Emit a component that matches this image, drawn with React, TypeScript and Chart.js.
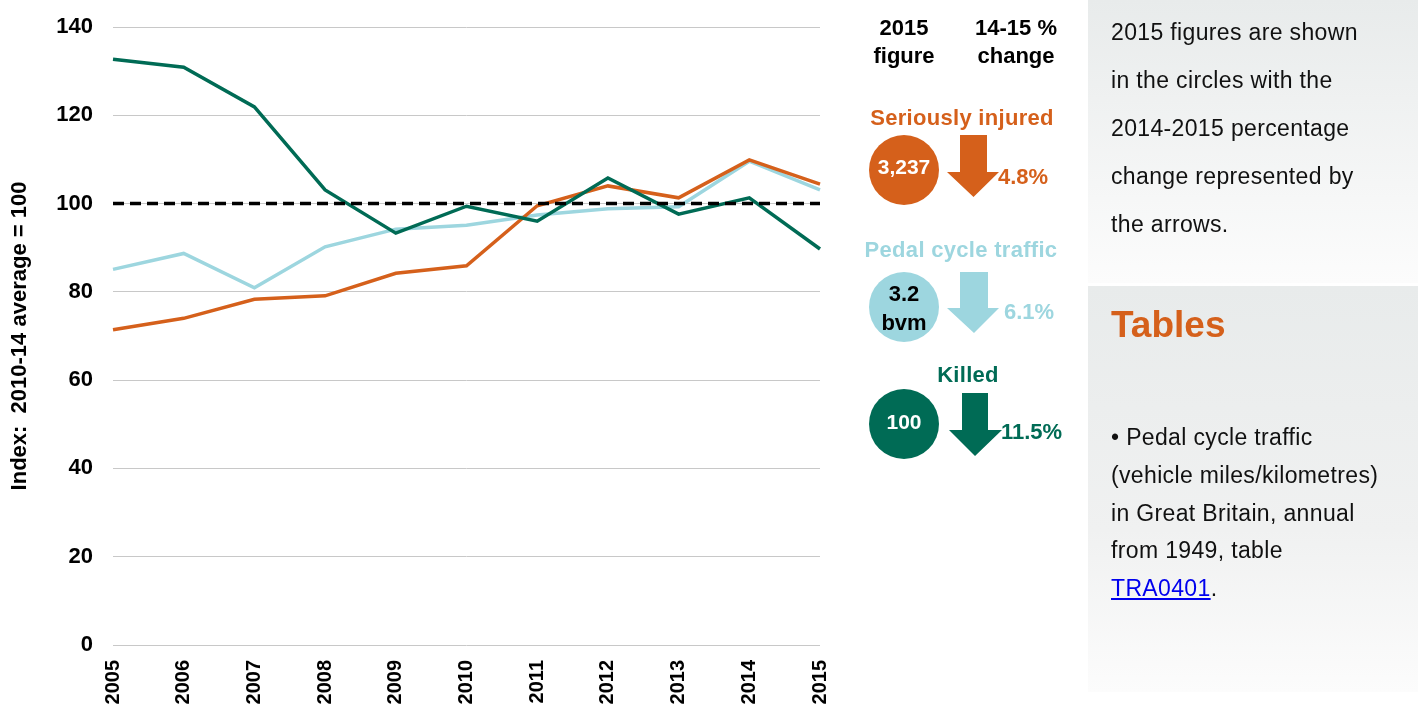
import React, { useEffect, useRef } from "react";
import { Chart, registerables } from "chart.js";

Chart.register(...registerables);

// ---------- data ----------
const years = ["2005", "2006", "2007", "2008", "2009", "2010", "2011", "2012", "2013", "2014", "2015"];
const killedIndex = [132.7, 130.9, 121.9, 103.1, 93.3, 99.4, 96.0, 105.8, 97.6, 101.3, 89.7];
const seriouslyInjuredIndex = [71.4, 74.0, 78.3, 79.1, 84.2, 85.9, 99.5, 104.0, 101.3, 109.9, 104.4];
const pedalTrafficIndex = [85.1, 88.7, 80.9, 90.2, 94.2, 95.1, 97.4, 98.8, 99.3, 109.6, 103.1];
const averageIndex = [100, 100, 100, 100, 100, 100, 100, 100, 100, 100, 100];
const yTickValues = [0, 20, 40, 60, 80, 100, 120, 140];

const summaryTitles = ["Seriously injured", "Pedal cycle traffic", "Killed"];
const summaryFigures = [["3,237"], ["3.2", "bvm"], ["100"]];
const summaryChanges = ["4.8%", "6.1%", "11.5%"];

// ---------- styles ----------
const ORANGE = "#D5601B";
const LIGHTBLUE = "#9DD6DF";
const GREEN = "#006B55";
const FONT = "'Liberation Sans', Arial, Helvetica, sans-serif";

const summaryColors = [ORANGE, LIGHTBLUE, GREEN];
const figureTextColors = ["#FFFFFF", "#000000", "#FFFFFF"];

// layout of the summary column (pixels)
const summaryLayout = [
  { titleX: 962, titleY: 118, cx: 904, cy: 170, r: 35, figY: [167], arrow: { sl: 960, sr: 987, top: 135, ht: 172, hl: 947, hr: 999, tip: 197 }, pctX: 998, pctY: 177 },
  { titleX: 961, titleY: 250, cx: 904, cy: 307, r: 35, figY: [294, 323], arrow: { sl: 960, sr: 988, top: 272, ht: 308, hl: 947, hr: 999, tip: 333 }, pctX: 1004, pctY: 312 },
  { titleX: 968, titleY: 375, cx: 904, cy: 424, r: 35, figY: [422], arrow: { sl: 962, sr: 988, top: 393, ht: 430, hl: 949, hr: 1002, tip: 456 }, pctX: 1001, pctY: 432 },
];

function CenteredText(props: { x: number; y: number; h: number; size: number; color: string; bold?: boolean; text: string; align?: "center" | "left"; spacing?: number }) {
  const { x, y, h, size, color, bold, text, align = "center", spacing = 0 } = props;
  const w = 320;
  return (
    <div
      style={{
        position: "absolute",
        left: align === "center" ? x - w / 2 : x,
        top: y - h / 2,
        width: w,
        height: h,
        lineHeight: `${h}px`,
        fontSize: size,
        fontWeight: bold ? "bold" : "normal",
        color,
        textAlign: align,
        fontFamily: FONT,
        whiteSpace: "pre",
        letterSpacing: spacing,
      }}
    >
      {text}
    </div>
  );
}

export default function App() {
  const canvasRef = useRef<HTMLCanvasElement | null>(null);

  useEffect(() => {
    const canvas = canvasRef.current;
    if (!canvas) return;
    const chart = new Chart(canvas, {
      type: "line",
      data: {
        labels: years,
        datasets: [
          {
            label: "2010-14 average",
            data: averageIndex,
            borderColor: "#000000",
            borderWidth: 3.5,
            borderDash: [11, 6],
            pointRadius: 0,
            fill: false,
            order: 0,
          },
          {
            label: "Killed",
            data: killedIndex,
            borderColor: GREEN,
            borderWidth: 3.5,
            pointRadius: 0,
            fill: false,
            tension: 0,
            order: 1,
          },
          {
            label: "Seriously injured",
            data: seriouslyInjuredIndex,
            borderColor: ORANGE,
            borderWidth: 3.5,
            pointRadius: 0,
            fill: false,
            tension: 0,
            order: 2,
          },
          {
            label: "Pedal cycle traffic",
            data: pedalTrafficIndex,
            borderColor: LIGHTBLUE,
            borderWidth: 3.5,
            pointRadius: 0,
            fill: false,
            tension: 0,
            order: 3,
          },
        ],
      },
      options: {
        animation: false,
        responsive: true,
        maintainAspectRatio: false,
        layout: { padding: { top: 27, right: 20, left: 0, bottom: 0 } },
        plugins: {
          legend: { display: false },
          tooltip: { enabled: false },
        },
        scales: {
          x: {
            type: "category",
            offset: false,
            grid: { display: false, drawTicks: false },
            border: { display: false },
            ticks: {
              autoSkip: false,
              maxRotation: 90,
              minRotation: 90,
              padding: 15,
              color: "#000000",
              font: { family: FONT, size: 20, weight: "bold" },
            },
            afterFit: (s: any) => {
              s.height = 64;
              s.paddingLeft = 0;
              s.paddingRight = 0;
              s.paddingTop = 0;
              s.paddingBottom = 0;
            },
          },
          y: {
            min: 0,
            max: 140,
            afterBuildTicks: (s: any) => {
              s.ticks = yTickValues.map((v) => ({ value: v }));
            },
            grid: { color: "#C8C8C8", lineWidth: 1, drawTicks: false },
            border: { display: false },
            ticks: {
              padding: 20,
              color: "#000000",
              font: { family: FONT, size: 22, weight: "bold" },
            },
            title: {
              display: true,
              text: "Index:  2010-14 average = 100",
              color: "#000000",
              font: { family: FONT, size: 22, weight: "bold" },
              padding: { top: 7, bottom: 0 },
            },
            afterFit: (s: any) => {
              s.width = 113;
              s.paddingLeft = 0;
              s.paddingRight = 0;
              s.paddingTop = 0;
              s.paddingBottom = 0;
            },
          },
        },
      },
    } as any);
    return () => chart.destroy();
  }, []);

  return (
    <div style={{ position: "absolute", left: 0, top: 0, width: 1418, height: 709, background: "#FFFFFF", overflow: "hidden", fontFamily: FONT }}>
      <div style={{ position: "absolute", left: 0, top: 0, width: 840, height: 709 }}>
        <canvas ref={canvasRef} style={{ display: "block" }} />
      </div>

      {/* summary column headers */}
      <CenteredText x={904} y={28} h={28} size={22} color="#000" bold text="2015" />
      <CenteredText x={904} y={56} h={28} size={22} color="#000" bold text="figure" />
      <CenteredText x={1016} y={28} h={28} size={22} color="#000" bold text="14-15 %" />
      <CenteredText x={1016} y={56} h={28} size={22} color="#000" bold text="change" />

      <svg style={{ position: "absolute", left: 0, top: 0 }} width={1418} height={709}>
        {summaryLayout.map((l, i) => {
          const a = l.arrow;
          const pts = [
            [a.sl, a.top], [a.sr, a.top], [a.sr, a.ht], [a.hr, a.ht],
            [(a.sl + a.sr) / 2, a.tip], [a.hl, a.ht], [a.sl, a.ht],
          ].map((p) => p.join(",")).join(" ");
          return (
            <g key={i}>
              <circle cx={l.cx} cy={l.cy} r={l.r} fill={summaryColors[i]} />
              <polygon points={pts} fill={summaryColors[i]} />
            </g>
          );
        })}
      </svg>

      {summaryLayout.map((l, i) => (
        <React.Fragment key={i}>
          <CenteredText x={l.titleX} y={l.titleY} h={28} size={22} color={summaryColors[i]} bold text={summaryTitles[i]} spacing={0.3} />
          {summaryFigures[i].map((f, j) => (
            <CenteredText key={j} x={l.cx} y={l.figY[j]} h={26} size={l.figY.length > 1 ? 22 : 21} color={figureTextColors[i]} bold text={f} />
          ))}
          <CenteredText x={l.pctX} y={l.pctY} h={28} size={22} color={summaryColors[i]} bold text={summaryChanges[i]} align="left" />
        </React.Fragment>
      ))}

      {/* right info boxes */}
      <div style={{ position: "absolute", left: 1088, top: 0, width: 330, height: 283, background: "linear-gradient(#E8EBEB, #FCFCFC)" }} />
      <div style={{ position: "absolute", left: 1088, top: 286, width: 330, height: 406, background: "linear-gradient(#E8EBEB 0%, #F0F1F1 60%, #FCFCFC 100%)" }} />

      <div style={{ position: "absolute", left: 1111, top: 8, width: 305, fontSize: 23, lineHeight: "48px", color: "#111", letterSpacing: 0.35, fontFamily: FONT }}>
        2015 figures are shown<br />in the circles with the<br />2014-2015 percentage<br />change represented by<br />the arrows.
      </div>

      <div style={{ position: "absolute", left: 1111, top: 305, fontSize: 37, lineHeight: "40px", fontWeight: "bold", color: ORANGE, fontFamily: FONT }}>
        Tables
      </div>

      <div style={{ position: "absolute", left: 1111, top: 419, width: 305, fontSize: 23, lineHeight: "37.75px", color: "#111", letterSpacing: 0.35, fontFamily: FONT }}>
        • Pedal cycle traffic<br />(vehicle miles/kilometres)<br />in Great Britain, annual<br />from 1949, table<br />
        <span style={{ color: "#0000EE", textDecoration: "underline" }}>TRA0401</span>.
      </div>
    </div>
  );
}
